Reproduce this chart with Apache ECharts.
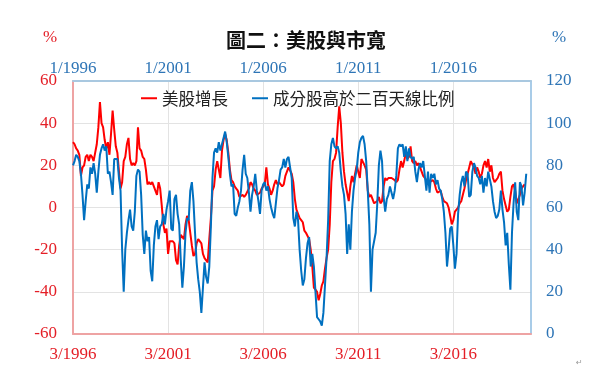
<!DOCTYPE html>
<html>
<head>
<meta charset="utf-8">
<script src="https://cdn.jsdelivr.net/npm/echarts@6/dist/echarts.min.js"></script>
<style>html,body{margin:0;padding:0;background:#fff;}#c{width:600px;height:391px;}</style>
</head>
<body>
<div id="c"></div>
<script>
// Monthly categories: 3/1996 ... 4/2020
const startYear = 1996, startMonth = 3, monthCount = 290;
const categories = [];
for (let i = 0; i < monthCount; i++) {
  const t = startYear * 12 + (startMonth - 1) + i;
  categories.push(Math.floor(t / 12) + '-' + String(t % 12 + 1).padStart(2, '0'));
}
const bottomTickLabels = ['3/1996', '3/2001', '3/2006', '3/2011', '3/2016'];
const topTickLabels = ['1/1996', '1/2001', '1/2006', '1/2011', '1/2016'];
const leftTicks = { min: -60, max: 60, step: 20 };
const rightTicks = { min: 0, max: 120, step: 20 };

const seriesNames = ['美股增長', '成分股高於二百天線比例'];

// 美股增長 (%), left axis
const usStockGrowth = [
  31,30,28,27,25,15,19,20,24,25, 22,25,24,22,26,30,38,50,40,38,
  32,28,31,25,35,46,37,29,26,17, 9,12,22,24,30,33,23,20,21,20,
  22,38,28,27,24,23,18,11,12,11, 12,10,8,6,12,9,1,-8,-12,-10,
  -22,-16,
  -16,-16,-17,-25,-27,-18,-13,-13,-15,-8, -4,-6,-12,-18,-23,-22,-17,-15,-15,-17,
  -22,-24,-24,-26,-15,-5,8,10,18,22, 18,14,27,32,35,32,26,18,13,12,
  10,9,8,5,5,6,5,6,6,9, 12,11,9,8,6,6,7,9,10,11,
  19,11,9,6,8,11,13,11,12,11, 10,11,15,17,19,19,16,12,4,-1,
  -3,-5,-6,-7,-11,-12,-12,-15,-20,-28, -38,-39,-40,-44,-41,-37,-35,-29,-24,-20,
  -8,12,22,23,26,38,48,40,26,17, 11,7,3,10,15,12,16,20,17,14,
  23,23,20,18,8,5,6,6,2,2, 3,5,2,3,10,14,13,14,14,14,
  14,13,12,13,18,22,19,22,26,23, 24,29,22,21,22,20,21,19,17,15,
  14,13,11,12,12,13,12,9,7,7, 8,5,3,3,2,0,-4,-8,-6,-2,
  -1,0,2,3,6,9,13,16,19,22, 22,19,16,19,17,14,16,20,22,19,
  23,17,20,14,12,13,14,16,17,8, 4,1,-2,-1,5,10,11,8,2,4,
  6,9,10,11
];

// 成分股高於二百天線比例 (%), right axis
const above200dma = [
  80,82,85,84,82,76,66,54,63,71, 69,79,76,81,76,67,77,85,88,90,
  87,89,76,77,72,66,83,83,83,74, 68,40,20,40,48,54,59,51,49,58,
  75,78,77,66,47,38,49,44,46,30, 25,42,51,54,45,51,52,57,52,59,
  63,68,
  50,49,64,66,57,52,35,22,32,48, 55,54,68,72,63,48,34,26,20,10,
  22,34,27,24,32,51,74,86,88,86, 91,87,90,93,96,91,84,76,70,71,
  57,56,60,63,68,78,85,76,74,67, 58,66,70,76,68,63,57,68,71,72,
  68,70,64,60,57,55,62,69,73,78, 79,83,79,83,84,79,74,55,51,58,
  54,40,30,23,26,36,43,46,32,38, 32,20,8,7,6,4,10,23,36,54,
  82,90,93,89,88,89,86,77,70,66, 57,38,52,40,58,68,74,78,86,91,
  93,94,90,82,68,52,20,40,44,48, 62,80,87,82,65,58,64,66,70,70,
  64,68,75,88,90,89,90,84,89,82, 88,84,83,84,77,72,78,81,79,82,
  82,68,77,67,76,74,76,71,73,69, 68,64,58,48,32,40,50,51,42,31,
  38,57,66,72,75,70,77,76,65,66, 77,81,79,75,74,71,75,67,74,70,
  77,77,70,63,58,55,56,59,68,59, 53,42,48,33,21,48,62,72,58,54,
  72,70,61,67,76
];

const RED = '#ff0000', BLUE = '#0070c0';
const RED_TXT = '#e41e26', BLUE_TXT = '#2e75b6';
const NUM_FONT = 'Liberation Serif';
const CJK_FONT = 'Noto Sans CJK TC';

const chart = echarts.init(document.getElementById('c'));
chart.setOption({
  animation: false,
  backgroundColor: '#ffffff',
  title: {
    text: '圖二：美股與市寬',
    left: 221, top: 25,
    textStyle: { fontFamily: CJK_FONT, fontSize: 20, fontWeight: 'bold', color: '#111' }
  },
  legend: {
    data: seriesNames,
    left: 136, top: 85,
    icon: 'rect', itemWidth: 16, itemHeight: 2, itemGap: 24,
    textStyle: { fontFamily: CJK_FONT, fontSize: 16.5, color: '#222' }
  },
  graphic: [
    { type: 'text', left: 43, top: 29, style: { text: '%', fontFamily: NUM_FONT, fontSize: 17, fill: RED_TXT } },
    { type: 'text', left: 552, top: 29, style: { text: '%', fontFamily: NUM_FONT, fontSize: 17, fill: BLUE_TXT } },
    { type: 'text', left: 576, top: 359, style: { text: '↵', fontFamily: 'DejaVu Sans', fontSize: 8, fill: '#999' } }
  ],
  grid: { left: 73, right: 69, top: 81, bottom: 57, outerBoundsMode: 'none' },
  xAxis: [
    {
      type: 'category', data: categories, boundaryGap: false, position: 'bottom',
      axisLine: { show: true, onZero: false, lineStyle: { color: '#eea3a3', width: 2 } },
      axisTick: { show: false },
      axisLabel: {
        interval: function (idx) { return idx % 60 === 0 && idx / 60 < bottomTickLabels.length; },
        formatter: function (v, idx) { return bottomTickLabels[idx / 60] || ''; },
        margin: 12, fontFamily: NUM_FONT, fontSize: 17, color: RED_TXT
      },
      splitLine: {
        show: true,
        interval: function (idx) { return idx % 60 === 0 && idx > 0; },
        lineStyle: { color: '#e3e3e3', width: 1 }
      }
    },
    {
      type: 'category', data: categories, boundaryGap: false, position: 'top',
      axisLine: { show: true, onZero: false, lineStyle: { color: '#a9c8e0', width: 2 } },
      axisTick: { show: false },
      axisLabel: {
        interval: function (idx) { return idx % 60 === 0 && idx / 60 < topTickLabels.length; },
        formatter: function (v, idx) { return topTickLabels[idx / 60] || ''; },
        margin: 4, fontFamily: NUM_FONT, fontSize: 17, color: BLUE_TXT
      },
      splitLine: { show: false }
    }
  ],
  yAxis: [
    {
      type: 'value', min: leftTicks.min, max: leftTicks.max, interval: leftTicks.step, position: 'left',
      axisLine: { show: true, onZero: false, lineStyle: { color: '#eea3a3', width: 2 } },
      axisTick: { show: false },
      axisLabel: { margin: 16, fontFamily: NUM_FONT, fontSize: 17, color: RED_TXT },
      splitLine: { show: true, lineStyle: { color: '#e3e3e3', width: 1 } }
    },
    {
      type: 'value', min: rightTicks.min, max: rightTicks.max, interval: rightTicks.step, position: 'right',
      axisLine: { show: true, onZero: false, lineStyle: { color: '#8dbbe0', width: 1.5 } },
      axisTick: { show: false },
      axisLabel: { margin: 15, fontFamily: NUM_FONT, fontSize: 17, color: BLUE_TXT },
      splitLine: { show: false }
    }
  ],
  series: [
    {
      name: seriesNames[0], type: 'line', data: usStockGrowth,
      xAxisIndex: 0, yAxisIndex: 0, symbol: 'none', smooth: false,
      lineStyle: { color: RED, width: 2 }, itemStyle: { color: RED }, z: 2
    },
    {
      name: seriesNames[1], type: 'line', data: above200dma,
      xAxisIndex: 0, yAxisIndex: 1, symbol: 'none', smooth: false,
      lineStyle: { color: BLUE, width: 2 }, itemStyle: { color: BLUE }, z: 3
    }
  ]
});
</script>
</body>
</html>
